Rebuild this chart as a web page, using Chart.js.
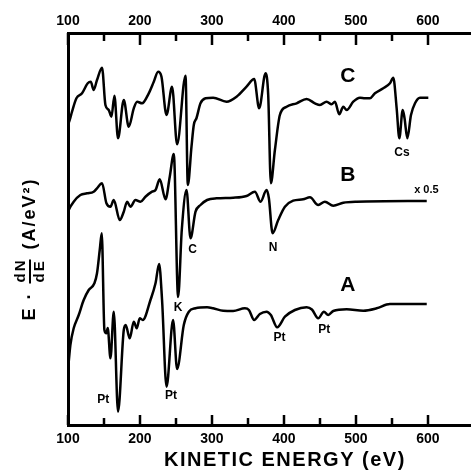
<!DOCTYPE html>
<html>
<head>
<meta charset="utf-8">
<script src="https://cdn.jsdelivr.net/npm/chart.js@4.4.1/dist/chart.umd.min.js"></script>
<style>
  html, body { margin: 0; padding: 0; background: #fff; }
</style>
</head>
<body>
<canvas id="myChart" width="471" height="474"></canvas>
<script>
// spectrum C (top)
const energyC = [100, 102.4, 105.6, 111.7, 119.5, 127.4, 131.6, 135.7, 140.3, 147.3, 152.0, 156.6, 160.4, 164.5, 169.5, 177.5, 184.4, 191.4, 196.0, 202.9, 212.2, 219.2, 225.2, 229.9, 236.9, 244.6, 251.6, 263.3, 266.5, 271.6, 274.8, 278.6, 284.1, 291.1, 301.7, 320.3, 334.2, 348.1, 358.7, 365.6, 374.5, 378.2, 381.9, 387.5, 394.4, 403.8, 417.7, 431.6, 443.1, 450.1, 459.4, 466.3, 470.9, 476.9, 482.5, 487.2, 496.4, 505.7, 512.6, 519.6, 526.5, 538.1, 547.4, 552.0, 556.7, 560.4, 565.1, 567.6, 571.5, 576.6, 582.2, 589.1, 600.7];
const signalC = [300, 305, 313.3, 326.7, 331.7, 341.7, 343.3, 335, 345, 357.3, 320, 315, 308.3, 329.3, 286.7, 325, 298.3, 316.7, 323.3, 321.7, 331.7, 343.3, 353.3, 348.3, 310, 338.3, 280.7, 349.3, 240, 278.3, 300, 307, 321.7, 326.7, 327.3, 323.3, 328.3, 338.3, 346, 316.7, 351.7, 330, 241.7, 275, 310, 318.3, 321.7, 326, 321.7, 320, 323.3, 320.7, 323.3, 310.7, 318.3, 315, 323.3, 327.3, 326.7, 326.7, 331.7, 336.7, 341.7, 347.3, 316.7, 286.7, 315, 307, 286.7, 310, 321.7, 327.3, 327.3];

// spectrum B (middle, x 0.5)
const energyB = [100, 101, 107.9, 117.2, 126.4, 135.7, 140.3, 147.3, 153.4, 159.0, 163.6, 171.9, 177.5, 182.1, 186.8, 193.7, 200.7, 207.6, 216.8, 221.6, 227.5, 235.5, 241.4, 247.0, 253.0, 258.1, 264.7, 270.2, 277.2, 284.1, 293.3, 306.4, 329.5, 348.1, 359.7, 367.6, 375.9, 379.1, 384.3, 392.1, 401.4, 412.9, 426.8, 436.2, 447.7, 457.0, 468.6, 482.5, 501.1, 598.5];
const signalB = [213, 215, 223.3, 230, 231.7, 233.3, 236.7, 241.7, 221.7, 218.3, 225, 205, 213.3, 223.3, 218.3, 225, 223.3, 228.3, 233.3, 235, 245.7, 225.7, 248.3, 271, 128, 195, 235, 186.7, 213.3, 220, 225, 226.7, 227.3, 229, 233.3, 223.3, 235, 227, 191.7, 205, 218.3, 224.3, 225.7, 227.7, 220, 223.3, 219.3, 222.3, 223.3, 224];

// spectrum A (bottom)
const energyA = [100, 103.3, 107.9, 114.9, 121.8, 128.8, 136.7, 140.3, 144.1, 146.9, 150.6, 153.4, 155.2, 159.0, 163.6, 169.5, 177.5, 180.2, 185.8, 191.4, 195.5, 199.7, 203.9, 214.6, 221.6, 226.6, 230.7, 236.9, 246.0, 251.6, 260.9, 267.9, 277.2, 293.3, 301.7, 315.6, 329.5, 345.8, 351.4, 358.7, 366.6, 375.9, 381.9, 390.7, 401.4, 415.3, 431.6, 438.9, 447.7, 455.6, 461.6, 468.6, 487.2, 510.3, 528.9, 547.4, 598.5];
const signalA = [55, 80, 96.7, 110, 125, 135, 141.7, 151.7, 175, 191.7, 95, 91.7, 97, 66.7, 113.3, 13.3, 95, 100, 86.7, 103.3, 96.7, 106.7, 105, 125, 141.7, 161, 125, 38.3, 105, 56, 100, 113.3, 116.7, 117.7, 116.7, 114.3, 114, 116.7, 115, 105, 111, 113.3, 110, 97.7, 108.3, 115, 117.7, 115.5, 106.7, 113.3, 110, 114, 115.7, 114.3, 116.7, 121, 121];

const tickValues = [100, 200, 300, 400, 500, 600];
const minorTicks = [150, 250, 350, 450, 550];

// curve names and peak labels: [text, energy, signal, size]
const curveLabels = [['C', 489, 349, 21], ['B', 489, 250, 21], ['A', 489, 140, 21]];
const peakLabels = [
  ['x 0.5', 598, 235, 11], ['Cs', 564, 272, 12], ['C', 273, 175, 12], ['N', 385, 177, 12],
  ['K', 253, 117, 12], ['Pt', 149, 25, 12], ['Pt', 243, 29, 12], ['Pt', 394, 87, 12], ['Pt', 456, 95, 12]
];
const xTitle = 'KINETIC ENERGY (eV)';

const FONT = '"Liberation Sans", Arial, sans-serif';
Chart.defaults.font.family = FONT;
Chart.defaults.color = '#000';

function toPoints(xs, ys) {
  return xs.map((x, i) => ({ x: x, y: ys[i] }));
}

const decorations = {
  id: 'decorations',
  afterDraw(chart) {
    const ctx = chart.ctx;
    const xs = chart.scales.x;
    const ys = chart.scales.y;
    const area = chart.chartArea;
    ctx.save();
    ctx.strokeStyle = '#000';
    ctx.lineWidth = 2.5;
    // inward tick marks on top and bottom axes
    tickValues.concat(minorTicks).forEach(v => {
      const px = Math.round(xs.getPixelForValue(v));
      const major = v % 100 === 0;
      ctx.beginPath();
      ctx.moveTo(px, area.bottom);
      ctx.lineTo(px, area.bottom - (major ? 10 : 7));
      ctx.moveTo(px, area.top);
      ctx.lineTo(px, area.top + (major ? 12 : 8));
      ctx.stroke();
    });

    ctx.fillStyle = '#000';
    ctx.textAlign = 'center';
    ctx.textBaseline = 'middle';
    curveLabels.concat(peakLabels).forEach(l => {
      ctx.font = 'bold ' + l[3] + 'px ' + FONT;
      ctx.fillText(l[0], xs.getPixelForValue(l[1]), ys.getPixelForValue(l[2]));
    });

    // x axis title, a bit right of centre as in the original
    ctx.font = 'bold 20px ' + FONT;
    ctx.letterSpacing = '1.5px';
    ctx.fillText(xTitle, xs.getPixelForValue(400) + 1, 460);

    // y axis title: E · dN/dE (A/eV²)
    ctx.translate(30, 249);
    ctx.rotate(-Math.PI / 2);
    ctx.letterSpacing = '2px';
    const mainFont = 'bold 18px ' + FONT;
    const fracFont = 'bold 15px ' + FONT;
    const partE = 'E ·';
    const partU = '(A/eV²)';
    ctx.font = mainFont;
    const wE = ctx.measureText(partE).width;
    const wU = ctx.measureText(partU).width;
    ctx.font = fracFont;
    const wF = Math.max(ctx.measureText('dN').width, ctx.measureText('dE').width) + 2;
    const gap = 8;
    let x0 = -(wE + wU + wF + 2 * gap) / 2;
    ctx.textAlign = 'left';
    ctx.font = mainFont;
    ctx.fillText(partE, x0, 0);
    x0 += wE + gap;
    ctx.font = fracFont;
    ctx.fillText('dN', x0 + 1, -9);
    ctx.fillText('dE', x0 + 1, 10);
    ctx.lineWidth = 2;
    ctx.beginPath();
    ctx.moveTo(x0, 0);
    ctx.lineTo(x0 + wF - 2, 0);
    ctx.stroke();
    x0 += wF + gap;
    ctx.font = mainFont;
    ctx.fillText(partU, x0, 0);
    ctx.restore();
  }
};

const lineStyle = {
  borderColor: '#000',
  borderWidth: 2.5,
  pointRadius: 0,
  fill: false,
  cubicInterpolationMode: 'monotone'
};

const axisTicks = {
  stepSize: 100,
  includeBounds: false,
  padding: 6,
  maxRotation: 0,
  autoSkip: false,
  color: '#000',
  font: { size: 14, weight: 'bold' }
};

new Chart(document.getElementById('myChart').getContext('2d'), {
  type: 'line',
  data: {
    datasets: [
      Object.assign({ label: 'C', data: toPoints(energyC, signalC) }, lineStyle),
      Object.assign({ label: 'B', data: toPoints(energyB, signalB) }, lineStyle),
      Object.assign({ label: 'A', data: toPoints(energyA, signalA) }, lineStyle)
    ]
  },
  options: {
    responsive: false,
    animation: false,
    devicePixelRatio: 1,
    layout: { padding: 0 },
    scales: {
      x: {
        type: 'linear',
        position: 'bottom',
        min: 100,
        max: 660,
        ticks: axisTicks,
        grid: { display: false, drawTicks: false },
        border: { display: true, color: '#000', width: 3 },
        afterFit: s => { s.height = 49; }
      },
      x2: {
        type: 'linear',
        position: 'top',
        min: 100,
        max: 660,
        ticks: Object.assign({}, axisTicks, { padding: 3 }),
        grid: { display: false, drawTicks: false },
        border: { display: true, color: '#000', width: 3 },
        afterFit: s => { s.height = 33; }
      },
      y: {
        min: 0,
        max: 392,
        ticks: { display: false },
        grid: { display: false, drawTicks: false },
        border: { display: true, color: '#000', width: 3 },
        afterFit: s => { s.width = 68; }
      }
    },
    plugins: {
      legend: { display: false },
      tooltip: { enabled: false }
    }
  },
  plugins: [decorations]
});
</script>
</body>
</html>
